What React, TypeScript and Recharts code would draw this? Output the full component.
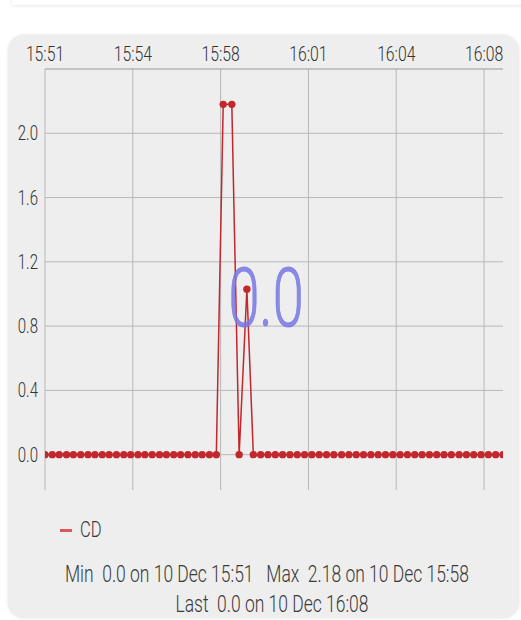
import { LineChart, Line, XAxis, YAxis, CartesianGrid } from "recharts";

// seconds after 15:51:00
const times = [
  0, 17, 33, 50, 66, 83, 100, 116, 133, 149, 166, 183, 199, 216, 232, 249, 266,
  282, 299, 315, 332, 349, 365, 382, 398,
  414, 434, 451, 469,
  484, 501, 518, 535, 552, 569, 586, 603, 620, 637, 654, 671, 689, 706, 723,
  740, 757, 774, 791, 808, 825, 842, 859, 876, 893, 910, 927, 944, 962, 979,
  996, 1013, 1030, 1047, 1064,
];

const cdValues = [
  0, 0, 0, 0, 0, 0, 0, 0, 0, 0, 0, 0, 0, 0, 0, 0, 0, 0, 0, 0, 0, 0, 0, 0, 0,
  2.18, 2.18, 0, 1.03,
  0, 0, 0, 0, 0, 0, 0, 0, 0, 0, 0, 0, 0, 0, 0, 0, 0, 0, 0, 0, 0, 0, 0, 0, 0,
  0, 0, 0, 0, 0, 0, 0, 0, 0, 0,
];

const xTicks = [0, 204, 408, 612, 816, 1020];
const xTickLabels = ["15:51", "15:54", "15:58", "16:01", "16:04", "16:08"];
const yTicks = [0, 0.4, 0.8, 1.2, 1.6, 2.0];

const RED = "#c1272d";
const FONT = "Roboto, 'Liberation Sans', sans-serif";

const data = times.map((t, i) => ({ t, cd: cdValues[i] }));

function XTick(props: any) {
  const { x, payload } = props;
  const idx = xTicks.indexOf(payload.value);
  return (
    <text
      x={0}
      y={0}
      transform={`translate(${x},61) scale(0.75,1)`}
      textAnchor="middle"
      fontSize={21}
      fontWeight={300}
      fontFamily={FONT}
      fill="#333"
    >
      {xTickLabels[idx] ?? ""}
    </text>
  );
}

function YTick(props: any) {
  const { y, payload } = props;
  return (
    <text
      x={0}
      y={0}
      transform={`translate(38,${y + 7}) scale(0.75,1)`}
      textAnchor="end"
      fontSize={20}
      fontWeight={300}
      fontFamily={FONT}
      fill="#333"
    >
      {Number(payload.value).toFixed(1)}
    </text>
  );
}

export default function App() {
  const textStyle = {
    position: "absolute" as const,
    fontFamily: FONT,
    fontWeight: 300,
    fontSize: 23,
    color: "#3a3a3a",
    whiteSpace: "nowrap" as const,
  };

  return (
    <div
      style={{
        position: "absolute",
        left: 0,
        top: 0,
        width: 521,
        height: 620,
        background: "#fff",
        overflow: "hidden",
      }}
    >
      {/* faint edge of the card above */}
      <div
        style={{
          position: "absolute",
          left: 12,
          top: -10,
          width: 530,
          height: 15,
          background: "#fff",
          boxShadow: "0 1px 3px rgba(0,0,0,0.10)",
        }}
      />

      {/* panel */}
      <div
        style={{
          position: "absolute",
          left: 8,
          top: 35,
          width: 511,
          height: 583,
          background: "#eeeeee",
          borderRadius: 16,
          boxShadow: "0 0 3px rgba(0,0,0,0.12)",
        }}
      />

      <div style={{ position: "absolute", left: 0, top: 0 }}>
        <LineChart
          width={521}
          height={500}
          data={data}
          margin={{ top: 39, right: 18, bottom: 10, left: 0 }}
        >
          <CartesianGrid stroke="#b8b8b8" strokeWidth={1} syncWithTicks />
          <XAxis
            dataKey="t"
            type="number"
            orientation="top"
            domain={[0, 1064]}
            ticks={xTicks}
            height={30}
            allowDataOverflow
            axisLine={{ stroke: "#999" }}
            tickLine={false}
            tick={<XTick />}
            interval={0}
          />
          <YAxis
            type="number"
            domain={[-0.22, 2.4]}
            ticks={yTicks}
            width={45}
            allowDataOverflow
            axisLine={false}
            tickLine={false}
            tick={<YTick />}
            interval={0}
          />
          <Line
            type="linear"
            dataKey="cd"
            stroke={RED}
            strokeWidth={1.5}
            dot={{ r: 3.7, fill: RED, stroke: RED, strokeWidth: 0 }}
            isAnimationActive={false}
          />
        </LineChart>
      </div>

      {/* overlay mark */}
      <div
        style={{
          position: "absolute",
          left: 166,
          top: 248,
          width: 200,
          textAlign: "center",
          fontFamily: FONT,
          fontWeight: 300,
          fontSize: 82,
          lineHeight: "100px",
          color: "rgba(120,120,228,0.85)",
          transform: "scaleX(0.68)",
          WebkitTextStroke: "1px rgba(120,120,228,0.85)",
        }}
      >
        0.0
      </div>

      {/* legend */}
      <div
        style={{
          position: "absolute",
          left: 60,
          top: 529,
          width: 12,
          height: 3,
          background: "#d85a5a",
        }}
      />
      <div
        style={{
          ...textStyle,
          left: 80,
          top: 517,
          lineHeight: "26px",
          fontSize: 22,
          transformOrigin: "left center",
          transform: "scaleX(0.75)",
        }}
      >
        CD
      </div>

      {/* stats */}
      <div
        style={{
          ...textStyle,
          left: 5,
          top: 561,
          width: 500,
          textAlign: "center",
          lineHeight: "28px",
          transform: "scaleX(0.76)",
        }}
      >
        Min&nbsp;&nbsp;0.0 on 10 Dec 15:51&nbsp;&nbsp;&nbsp;Max&nbsp;&nbsp;2.18 on 10 Dec 15:58
      </div>
      <div
        style={{
          ...textStyle,
          left: 22,
          top: 592,
          width: 500,
          textAlign: "center",
          lineHeight: "26px",
          transform: "scaleX(0.76)",
        }}
      >
        Last&nbsp;&nbsp;0.0 on 10 Dec 16:08
      </div>
    </div>
  );
}
